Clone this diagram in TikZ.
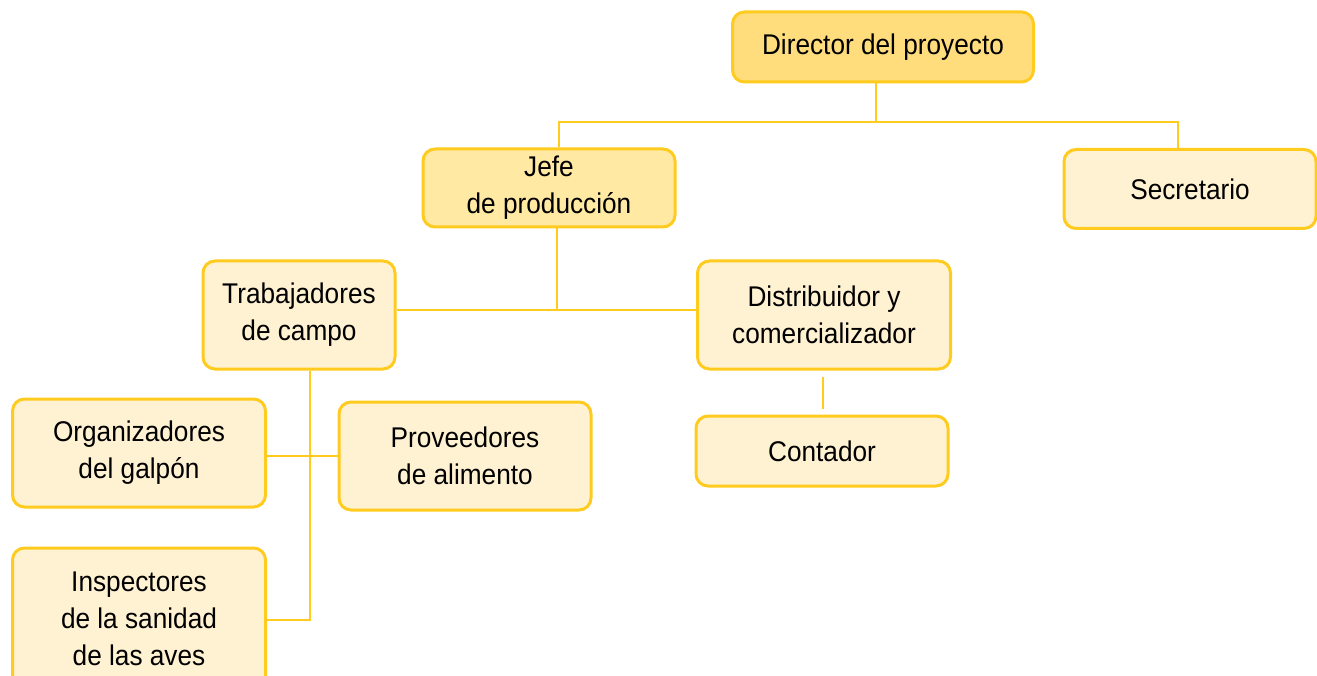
\documentclass[tikz,border=0pt]{standalone}
\usepackage{fontspec}
\setmainfont{Liberation Sans}[FakeStretch=0.92]
\definecolor{edge}{HTML}{FFCB1F}
\definecolor{fillA}{HTML}{FFDD7C}
\definecolor{fillB}{HTML}{FFE9A3}
\definecolor{fillC}{HTML}{FFF2D2}
\begin{document}
\begin{tikzpicture}[x=1pt,y=-1pt,
  box/.style={draw=edge,line width=3pt,rounded corners=12pt,fill=fillC,
    align=center,inner sep=0pt,font=\fontsize{28.5}{37}\selectfont},
  link/.style={draw=edge,line width=2pt}]
\useasboundingbox (0,0) rectangle (1317,676);
\node[box,fill=fillA,minimum width=301pt,minimum height=70pt] (dir) at (883,47) {Director del proyecto};
\node[box,fill=fillB,minimum width=252pt,minimum height=78pt] (jefe) at (549,188) {Jefe\\de producción};
\node[box,minimum width=252pt,minimum height=79pt] (sec) at (1190,189) {Secretario};
\node[box,minimum width=192pt,minimum height=108pt] (trab) at (299,315) {Trabajadores\\de campo};
\node[box,minimum width=253pt,minimum height=108pt] (dist) at (824,315) {Distribuidor y\\comercializador};
\node[box,minimum width=253pt,minimum height=108pt] (org) at (139,453) {Organizadores\\del galpón};
\node[box,minimum width=252pt,minimum height=108pt] (prov) at (465,456) {Proveedores\\de alimento};
\node[box,minimum width=252pt,minimum height=70pt] (cont) at (822,451) {Contador};
\node[box,minimum width=253pt,minimum height=142pt] (insp) at (139,619) {Inspectores\\de la sanidad\\de las aves};
\coordinate (d1) at (876,122);
\coordinate (jl) at (559,122);
\coordinate (sr) at (1178,122);
\coordinate (j1) at (557,310);
\coordinate (t1) at (310,456);
\coordinate (t2) at (310,620);
\draw[link] (dir.south -| d1) -- (d1);
\draw[link] (jefe.north -| jl) -- (jl) -- (sr) -- (sec.north -| sr);
\draw[link] (jefe.south -| j1) -- (j1);
\draw[link] (trab.east |- j1) -- (dist.west |- j1);
\draw[link] (trab.south -| t1) -- (t2) -- (insp.east |- t2);
\draw[link] (org.east |- t1) -- (prov.west |- t1);
\draw[link] ([yshift=-6pt]dist.south -| 823,0) -- ([yshift=6pt]cont.north -| 823,0);
\end{tikzpicture}
\end{document}
